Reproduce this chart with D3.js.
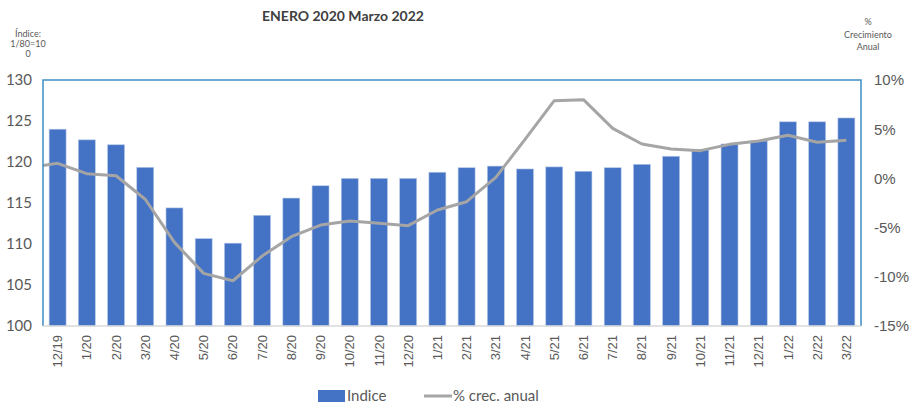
<!DOCTYPE html>
<html><head><meta charset="utf-8">
<script src="https://cdn.jsdelivr.net/npm/d3@7"></script>
<style>body{margin:0;background:#fff}svg{display:block;font-family:Lato,"Open Sans",sans-serif}</style>
</head><body><div id="chart"></div>
<script>
const categories = ["12/19","1/20","2/20","3/20","4/20","5/20","6/20","7/20","8/20","9/20","10/20","11/20","12/20","1/21","2/21","3/21","4/21","5/21","6/21","7/21","8/21","9/21","10/21","11/21","12/21","1/22","2/22","3/22"];
const indice = [124.0,122.7,122.1,119.35,114.4,110.65,110.1,113.5,115.6,117.1,118.0,118.0,118.0,118.75,119.3,119.5,119.15,119.4,118.87,119.3,119.72,120.7,121.55,122.2,122.56,124.9,124.9,125.37];
// annual growth (%); the first value belongs to 11/19, drawn outside the plot and clipped
const prevCategory = "11/19";
const prevCrec = 1.1;
const crec = [1.53,0.48,0.27,-2.12,-6.5,-9.65,-10.4,-7.89,-5.92,-4.74,-4.33,-4.57,-4.8,-3.21,-2.37,0.11,3.97,7.9,8.0,5.09,3.5,2.99,2.82,3.46,3.8,4.38,3.67,3.87];
const leftTicks = [100,105,110,115,120,125,130];
const rightTicks = [-15,-10,-5,0,5,10];

const W = 913, H = 406;
const m = {left:43, top:80, right:861, bottom:326};
const svg = d3.select("#chart").append("svg").attr("width",W).attr("height",H);

const x = d3.scaleBand().domain(categories).range([m.left,m.right]).paddingInner(0.42).paddingOuter(0.21);
const yL = d3.scaleLinear().domain([100,130]).range([m.bottom,m.top]);
const yR = d3.scaleLinear().domain([-15,10]).range([m.bottom,m.top]);
const step = x.step();
const cx = c => x(c) + x.bandwidth()/2;

svg.append("defs").append("clipPath").attr("id","clip")
  .append("rect").attr("x",m.left).attr("y",m.top-5).attr("width",m.right-m.left).attr("height",m.bottom-m.top+10);

// bars
svg.append("g").selectAll("rect").data(categories).join("rect")
  .attr("x",d=>x(d)).attr("width",x.bandwidth())
  .attr("y",(d,i)=>yL(indice[i])).attr("height",(d,i)=>yL(100)-yL(indice[i]))
  .attr("fill","#4472C4").attr("stroke","#b4c7e7").attr("stroke-width",0.6);

// line
const pts = [[cx(categories[0]) - step, prevCrec]].concat(categories.map((c,i)=>[cx(c),crec[i]]));
svg.append("path").datum(pts).attr("clip-path","url(#clip)")
  .attr("d",d3.line().x(d=>d[0]).y(d=>yR(d[1])))
  .attr("fill","none").attr("stroke","#A5A5A5").attr("stroke-width",3).attr("stroke-linejoin","round");

// plot border
svg.append("path").attr("d",`M${m.left},${m.bottom}V${m.top}H${m.right}V${m.bottom}`)
  .attr("fill","none").attr("stroke","#3E8EC5").attr("stroke-width",1.5);
svg.append("line").attr("x1",m.left).attr("x2",m.right).attr("y1",m.bottom).attr("y2",m.bottom)
  .attr("stroke","#D9D9D9").attr("stroke-width",1.5);

// axes
const axL = svg.append("g").attr("transform",`translate(${m.left},0)`)
  .call(d3.axisLeft(yL).tickValues(leftTicks).tickSize(0).tickPadding(11));
axL.select(".domain").remove();
axL.selectAll("text").attr("font-size",15).attr("fill","#595959").attr("font-family","Lato");

const axR = svg.append("g").attr("transform",`translate(${m.right},0)`)
  .call(d3.axisRight(yR).tickValues(rightTicks).tickSize(0).tickPadding(13).tickFormat(d=>d+"%"));
axR.select(".domain").remove();
axR.selectAll("text").attr("font-size",15).attr("fill","#595959");

const axB = svg.append("g").attr("transform",`translate(0,${m.bottom})`)
  .call(d3.axisBottom(x).tickSize(0));
axB.select(".domain").remove();
axB.selectAll("text").attr("font-size",13).attr("fill","#595959")
  .attr("text-anchor","end").attr("dy","0.35em")
  .attr("transform",function(d){return `translate(0,${9}) rotate(-90)`;}).attr("y",0).attr("x",0);

// title & axis titles
svg.append("text").attr("x",343).attr("y",21).attr("text-anchor","middle")
  .attr("font-size",14).attr("font-weight","bold").attr("fill","#404040").text("ENERO 2020 Marzo 2022");
const lt = svg.append("text").attr("text-anchor","middle").attr("font-size",9).attr("fill","#595959");
[["Índice:",37],["1/80=10",47],["0",57]].forEach(([t,y])=>lt.append("tspan").attr("x",28).attr("y",y).text(t));
const rt = svg.append("text").attr("text-anchor","middle").attr("font-size",9).attr("fill","#595959");
[["%",25],["Crecimiento",38],["Anual",50]].forEach(([t,y])=>rt.append("tspan").attr("x",868).attr("y",y).text(t));

// legend
const lg = svg.append("g").attr("font-size",15).attr("fill","#595959");
lg.append("rect").attr("x",318).attr("y",390).attr("width",27).attr("height",12).attr("fill","#4472C4");
lg.append("text").attr("x",347).attr("y",401).text("Indice");
lg.append("line").attr("x1",424).attr("x2",452).attr("y1",396).attr("y2",396).attr("stroke","#A5A5A5").attr("stroke-width",3);
lg.append("text").attr("x",453).attr("y",401).text("% crec. anual");
</script></body></html>
